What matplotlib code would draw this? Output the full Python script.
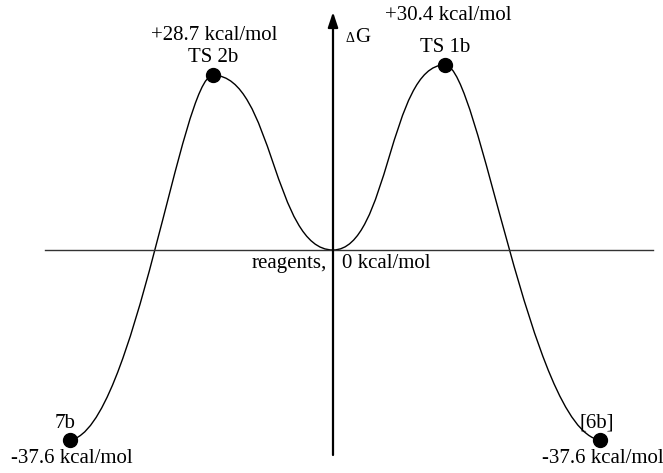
import numpy as np
import matplotlib
matplotlib.use('Agg')
import matplotlib.pyplot as plt
from matplotlib.path import Path
from matplotlib.patches import PathPatch

plt.rcParams['font.family'] = ['Liberation Serif', 'DejaVu Serif']

# reaction coordinate (schematic) and free energies, kcal/mol
coord = [-263, -120, 0, 112, 267]
energy = [-37.6, 28.7, 0.0, 30.4, -37.6]
species = ['7b', 'TS 2b', 'reagents,', 'TS 1b', '[6b]']
energy_labels = ['-37.6 kcal/mol', '+28.7 kcal/mol', '0 kcal/mol',
                 '+30.4 kcal/mol', '-37.6 kcal/mol']

# the negative side of the diagram is drawn compressed
k = 0.83
def fwd(y):
    y = np.asarray(y, dtype=float)
    return np.where(y < 0, y * k, y)
def inv(y):
    y = np.asarray(y, dtype=float)
    return np.where(y < 0, y / k, y)

fig = plt.figure(figsize=(6.63, 4.73), dpi=100)
ax = fig.add_axes([0, 0, 1, 1])
ax.set_yscale('function', functions=(fwd, inv))
ax.set_xlim(-333, 330)
ax.set_ylim(float(inv(-223 / 6.09)), 250 / 6.09)
ax.axis('off')

# smooth profile: cubic bezier segments, built in the (linear) drawn space
# handle lengths as fractions of segment width (start, end), small vertical lift at the ends
handles = [(0.45, 0.22), (0.5, 0.5), (0.5, 0.5), (0.22, 0.45)]
ys = fwd(energy)
verts = [(coord[0], ys[0])]
codes = [Path.MOVETO]
for i in range(len(coord) - 1):
    x0, y0, x1, y1 = coord[i], ys[i], coord[i + 1], ys[i + 1]
    dx, dy = x1 - x0, y1 - y0
    a, b = handles[i]
    c1y = y0 + (0.027 * dy if i == 0 else 0)
    c2y = y1 - (0.027 * dy if i == len(coord) - 2 else 0)
    verts += [(x0 + a * dx, c1y), (x1 - b * dx, c2y), (x1, y1)]
    codes += [Path.CURVE4] * 3
verts = np.array(verts)
verts[:, 1] = inv(verts[:, 1])
ax.add_patch(PathPatch(Path(verts, codes), facecolor='none', edgecolor='black', lw=1.0))

# axes of the diagram
ax.plot([-288, 320], [0, 0], color='#333333', lw=1.0)
ax.annotate('', xy=(0, 39.08), xytext=(0, float(inv(-205 / 6.09))),
            arrowprops=dict(arrowstyle='-|>,head_length=0.9,head_width=0.3',
                            color='black', lw=1.6, shrinkA=0, shrinkB=0))
ax.annotate('\u0394', xy=(0, 39.08), xytext=(12, -30), textcoords='offset pixels',
            fontsize=10, ha='left', va='baseline')
ax.annotate('G', xy=(0, 39.08), xytext=(22, -30), textcoords='offset pixels',
            fontsize=15, ha='left', va='baseline')

# stationary points
ax.plot([coord[i] for i in (0, 1, 3, 4)], [energy[i] for i in (0, 1, 3, 4)],
        'o', color='black', markersize=10)

fs = 15
# (name offset, energy offset) in pixels
name_off = [(-5, 12), (0, 13), (-6, -18), (0, 13), (-3, 13)]
en_off = [(2, -23), (1, 35), (9, -18), (3, 45), (3, -23)]
for i in range(len(coord)):
    p = (coord[i], energy[i])
    if i == 2:
        ax.annotate(species[i], p, xytext=name_off[i], textcoords='offset pixels',
                    fontsize=fs, ha='right', va='baseline')
        ax.annotate(energy_labels[i], p, xytext=en_off[i], textcoords='offset pixels',
                    fontsize=fs, ha='left', va='baseline')
    else:
        ax.annotate(species[i], p, xytext=name_off[i], textcoords='offset pixels',
                    fontsize=fs, ha='center', va='baseline')
        ax.annotate(energy_labels[i], p, xytext=en_off[i], textcoords='offset pixels',
                    fontsize=fs, ha='center', va='baseline', annotation_clip=False)

fig.savefig('out.png', dpi=100)
